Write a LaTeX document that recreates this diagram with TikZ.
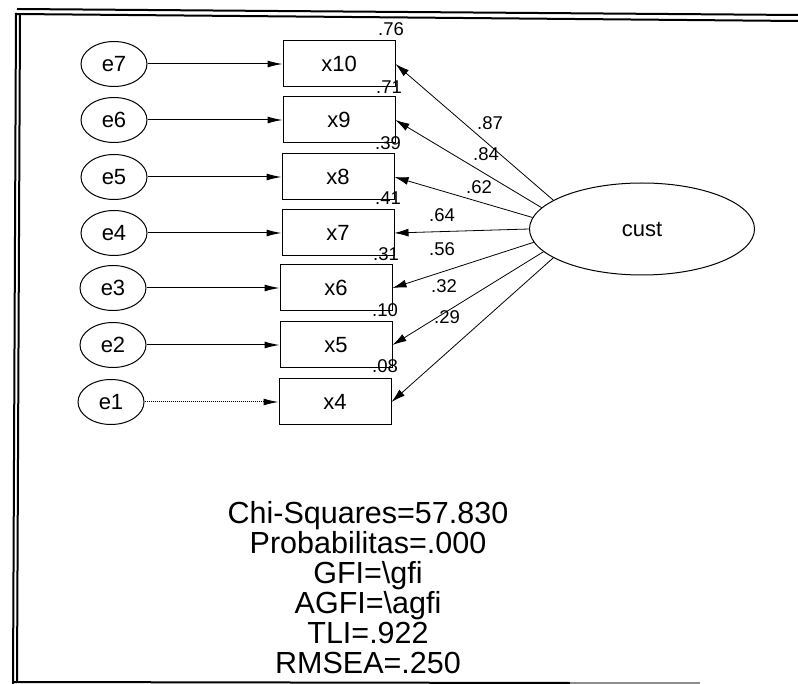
\documentclass[tikz,border=0pt]{standalone}
\usepackage{fontspec}
\setmainfont{Liberation Sans}
\usetikzlibrary{shapes.geometric,arrows.meta}
\begin{document}
\begin{tikzpicture}[x=1pt,y=-1pt,
  errv/.style={ellipse,draw,line width=1pt,minimum width=66pt,minimum height=45pt,inner sep=0pt,font=\fontsize{22}{24}\selectfont},
  obs/.style={rectangle,draw,line width=1pt,minimum width=112pt,minimum height=46pt,inner sep=0pt,font=\fontsize{22}{24}\selectfont},
  lat/.style={ellipse,draw,line width=1pt,minimum width=225pt,minimum height=92pt,inner sep=0pt,font=\fontsize{22}{24}\selectfont},
  lbl/.style={font=\fontsize{18.5}{20}\selectfont,inner sep=0pt},
  earrow/.style={line width=1pt,-{Latex[length=15pt,width=7pt]}},
  larrow/.style={line width=0.8pt,-{Latex[length=14pt,width=8pt]}},
  frameline/.style={line width=2pt}]
\useasboundingbox[fill=white] (0,0) rectangle (798,684);

% frame
\draw[frameline] (17,9) -- (798,15);
\draw[frameline] (16,14) -- (798,21);
\draw[frameline] (16,13) -- (13,684);
\draw[frameline] (20,14) -- (17,682);
\draw[frameline] (13,682) -- (570,683);
\draw[line width=1.5pt,black!45] (570,683) -- (700,683);

% error terms
\node[errv] (e7) at (114,64) {e7};
\node[errv] (e6) at (114,120) {e6};
\node[errv] (e5) at (114,177) {e5};
\node[errv] (e4) at (114,233) {e4};
\node[errv] (e3) at (113,288) {e3};
\node[errv] (e2) at (113,345) {e2};
\node[errv] (e1) at (111,402) {e1};

% observed
\node[obs] (x10) at (339,64) {x10};
\node[obs] (x9) at (339,120) {x9};
\node[obs] (x8) at (338,177) {x8};
\node[obs] (x7) at (338,233) {x7};
\node[obs] (x6) at (336,288) {x6};
\node[obs] (x5) at (336,345) {x5};
\node[obs] (x4) at (335,402) {x4};

% latent
\node[lat] (cust) at (642,229) {cust};

% error arrows
\draw[earrow] (e7) -- (x10);
\draw[earrow] (e6) -- (x9);
\draw[earrow] (e5) -- (x8);
\draw[earrow] (e4) -- (x7);
\draw[earrow] (e3) -- (x6);
\draw[earrow] (e2) -- (x5);
\draw[earrow,densely dotted] (e1) -- (x4);

% loadings
\draw[larrow] (cust.162) -- (x10.east);
\draw[larrow] (cust.168) -- (x9.east);
\draw[larrow] (cust.174) -- (x8.east);
\draw[larrow] (cust.180) -- (x7.east);
\draw[larrow] (cust.187) -- (x6.east);
\draw[larrow] (cust.193) -- (x5.east);
\draw[larrow] (cust.198) -- (x4.east);

% squared multiple correlations
\node[lbl] (r10) at (391,29) {.76};
\node[lbl] (r9) at (389,87) {.71};
\node[lbl] (r8) at (388,143) {.39};
\node[lbl] (r7) at (388,198) {.41};
\node[lbl] (r6) at (386,254) {.31};
\node[lbl] (r5) at (385,310) {.10};
\node[lbl] (r4) at (385,366) {.08};

% loading labels
\node[lbl] (l10) at (490,123) {.87};
\node[lbl] (l9) at (486,154) {.84};
\node[lbl] (l8) at (479,187) {.62};
\node[lbl] (l7) at (442,215) {.64};
\node[lbl] (l6) at (442,249) {.56};
\node[lbl] (l5) at (444,286) {.32};
\node[lbl] (l4) at (447,317) {.29};

% fit statistics
\node[align=center,inner sep=0pt,font=\fontsize{30.5}{30}\selectfont] (fit) at (368,588)
  {Chi-Squares=57.830\\Probabilitas=.000\\GFI=\textbackslash gfi\\AGFI=\textbackslash agfi\\TLI=.922\\RMSEA=.250};
\end{tikzpicture}
\end{document}
